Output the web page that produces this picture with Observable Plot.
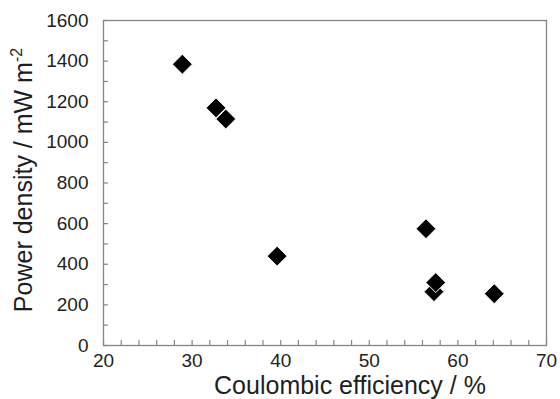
<!DOCTYPE html>
<html>
<head>
<meta charset="utf-8">
<script src="https://cdn.jsdelivr.net/npm/d3@7"></script>
<script src="https://cdn.jsdelivr.net/npm/@observablehq/plot@0.6"></script>
<style>
  body { margin: 0; background: #fff; }
  svg { font-family: "Liberation Sans", Arial, sans-serif; }
  g[aria-label="x-axis tick label"] text, g[aria-label="y-axis tick label"] text { font-size: 19px !important; }
</style>
</head>
<body>
<div id="chart"></div>
<script>
const efficiency = [28.9, 32.7, 33.8, 39.6, 56.4, 57.3, 57.5, 64.1];
const powerDensity = [1385, 1170, 1115, 440, 575, 265, 310, 255];
const xTickLabels = [20, 30, 40, 50, 60, 70];
const yTickLabels = [0, 200, 400, 600, 800, 1000, 1200, 1400, 1600];
const xMinorTicks = d3.range(20, 70.1, 2);
const yMinorTicks = d3.range(0, 1600.1, 100);
const xTitle = "Coulombic efficiency / %";
const yTitleMain = "Power density / mW m";
const yTitleSup = "-2";

const data = efficiency.map((x, i) => ({x, y: powerDensity[i]}));
const frameColor = "#858585";
const textColor = "#1e1e1e";

const chart = Plot.plot({
  width: 560,
  height: 399,
  marginLeft: 103,
  marginRight: 14,
  marginTop: 20,
  marginBottom: 54,
  style: {fontFamily: "Liberation Sans, Arial, sans-serif", color: textColor, background: "#fff"},
  x: {domain: [20, 70]},
  y: {domain: [0, 1600]},
  marks: [
    Plot.frame({stroke: frameColor, strokeWidth: 1.3}),
    Plot.axisX(xMinorTicks, {tickSize: -5, text: null, stroke: frameColor, strokeWidth: 1.2, label: null}),
    Plot.axisY(yMinorTicks, {tickSize: -5, text: null, stroke: frameColor, strokeWidth: 1.2, label: null}),
    Plot.axisX(xTickLabels, {tickSize: 0, tickPadding: 8, fill: textColor, fontSize: 19, tickFormat: d => String(d), label: null}),
    Plot.axisY(yTickLabels, {tickSize: 0, tickPadding: 15, fill: textColor, fontSize: 19, tickFormat: d => String(d), label: null}),
    Plot.dot(data, {x: "x", y: "y", symbol: "diamond2", r: 9, fill: "#000", stroke: "#fff", strokeWidth: 1})
  ]
});

document.getElementById("chart").appendChild(chart);

const svg = d3.select(chart);
svg.selectAll('g[aria-label="x-axis tick label"], g[aria-label="y-axis tick label"]').attr("font-size", 19);

svg.append("text")
  .attr("x", 350)
  .attr("y", 394)
  .attr("text-anchor", "middle")
  .attr("font-size", 25)
  .attr("fill", textColor)
  .text(xTitle);

const yt = svg.append("text")
  .attr("transform", "translate(32,180) rotate(-90)")
  .attr("text-anchor", "middle")
  .attr("font-size", 25)
  .attr("fill", textColor);
yt.append("tspan").text(yTitleMain);
yt.append("tspan").attr("dy", -10).attr("font-size", 16).text(yTitleSup);
</script>
</body>
</html>
